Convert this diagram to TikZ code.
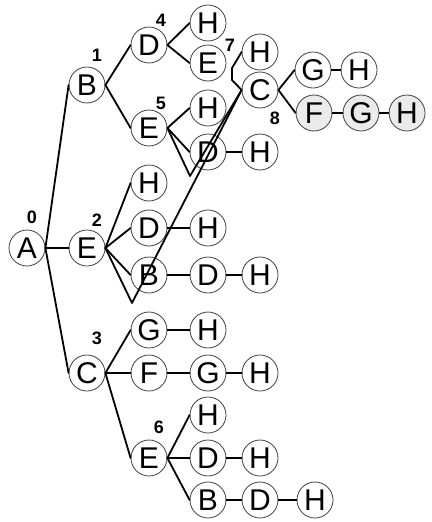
\documentclass[tikz,border=0pt]{standalone}
\usepackage{fontspec}
\setmainfont{Liberation Sans}
\begin{document}
\begin{tikzpicture}[x=1pt,y=-1pt,line cap=round,line join=round,
  st/.style={circle,draw=black!75,line width=0.8pt,minimum size=36pt,inner sep=0pt,
    font=\fontsize{30}{30}\selectfont},
  gst/.style={st,fill=black!8},
  num/.style={font=\bfseries\fontsize{18}{18}\selectfont},
  lnk/.style={line width=1.8pt}]
  \useasboundingbox (0,0) rectangle (431,522);

  % Wurzel und erste Ebene
  \node[st] (a) at (27,248) {A};
  \node[st] (b) at (87,85) {B};
  \node[st] (e) at (87,248) {E};
  \node[st] (c) at (87,373) {C};

  % zweite Ebene
  \node[st] (bd) at (149,45) {D};
  \node[st] (be) at (149,128) {E};
  \node[st] (eh) at (149,183) {H};
  \node[st] (ed) at (149,228) {D};
  \node[st] (eb) at (149,275) {B};
  \node[st] (cg) at (149,330) {G};
  \node[st] (cf) at (149,373) {F};
  \node[st] (ce) at (149,458) {E};

  % dritte Ebene
  \node[st] (bdh) at (208,23) {H};
  \node[st] (bde) at (208,63) {E};
  \node[st] (beh) at (208,108) {H};
  \node[st] (bed) at (208,152) {D};
  \node[st] (edh) at (208,228) {H};
  \node[st] (ebd) at (208,275) {D};
  \node[st] (cgh) at (208,330) {H};
  \node[st] (cfg) at (208,373) {G};
  \node[st] (ceh) at (208,415) {H};
  \node[st] (ced) at (208,458) {D};
  \node[st] (ceb) at (208,500) {B};

  % vierte Ebene und weiter
  \node[st] (hs) at (260,52) {H};
  \node[st] (cs) at (260,90) {C};
  \node[st] (bedh) at (260,152) {H};
  \node[st] (ebdh) at (260,275) {H};
  \node[st] (cfgh) at (260,373) {H};
  \node[st] (cedh) at (260,458) {H};
  \node[st] (cebd) at (260,500) {D};
  \node[st] (csg) at (313,70) {G};
  \node[st] (csgh) at (359,70) {H};
  \node[gst] (csf) at (314,113) {F};
  \node[gst] (csfg) at (361,113) {G};
  \node[gst] (csfgh) at (407,113) {H};
  \node[st] (cebdh) at (315,500) {H};

  % Nummern der Expansion
  \node[num] (n0) at (32,217) {0};
  \node[num] (n1) at (97,55) {1};
  \node[num] (n2) at (97,220) {2};
  \node[num] (n3) at (97,338) {3};
  \node[num] (n4) at (161,20) {4};
  \node[num] (n5) at (161,103) {5};
  \node[num] (n6) at (159,427) {6};
  \node[num] (n7) at (230,45) {7};
  \node[num] (n8) at (275,118) {8};

  % Kanten
  \foreach \p/\q in {a/b,a/e,a/c,b/bd,b/be,e/eh,e/ed,e/eb,c/cg,c/cf,c/ce,
      bd/bdh,bd/bde,be/beh,be/bed,bed/bedh,ed/edh,eb/ebd,ebd/ebdh,
      cg/cgh,cf/cfg,cfg/cfgh,ce/ceh,ce/ced,ced/cedh,ce/ceb,ceb/cebd,cebd/cebdh,
      cs/csg,csg/csgh,cs/csf,csf/csfg,csfg/csfgh}
    \draw[lnk] (\p.east) -- (\q.west);

  % Rueckspruenge zu C
  \coordinate (v5) at (190,176);
  \coordinate (v2) at (132,303);
  \coordinate (k7) at (232,68);
  \coordinate (k8) at (232,80);
  \draw[lnk] (be.east) -- (v5) -- (cs.west);
  \draw[lnk] (e.east) -- (v2) -- (cs.west);
  \draw[lnk] (hs.west) -- (k7) -- (k8) -- (cs.west);
\end{tikzpicture}
\end{document}
